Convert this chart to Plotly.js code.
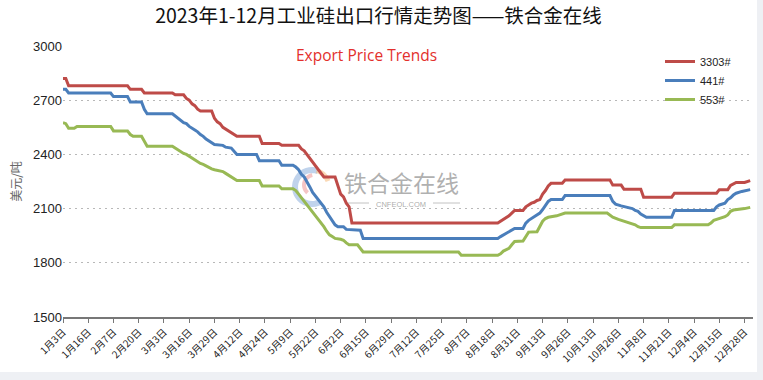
<!DOCTYPE html>
<html>
<head>
<meta charset="utf-8">
<script src="https://cdn.plot.ly/plotly-3.0.1.min.js"></script>
<style>
html,body{margin:0;padding:0;background:#eef0f4;width:763px;height:380px;overflow:hidden;}
#chart{width:757px;height:372px;background:#fff;}
</style>
</head>
<body>
<div id="chart"></div>
<script>
// Tick labels (one every 9 trading days)
const tickLabels = ["1月3日","1月16日","2月7日","2月20日","3月3日","3月16日","3月29日","4月12日","4月24日","5月9日","5月22日","6月2日","6月15日","6月29日","7月12日","7月25日","8月7日","8月18日","8月31日","9月13日","9月26日","10月13日","10月26日","11月8日","11月21日","12月4日","12月15日","12月28日"];
const labelStep = 9;

// 3303# : trading-day index and price (USD/t) at each change point
const day3303 = [0,1,2,23,24,28,29,39,40,43,44,45,46,47,48,49,53,54,55,56,57,58,59,60,61,62,70,71,77,78,84,85,86,87,88,89,90,91,92,93,97,98,99,100,101,102,103,155,156,157,158,159,160,161,164,165,166,167,168,169,170,171,172,173,174,178,179,195,196,199,200,206,207,217,218,233,234,237,238,239,240,243,244,245];
const price3303 = [2820,2820,2780,2780,2760,2760,2740,2740,2730,2730,2710,2700,2680,2670,2650,2640,2640,2600,2580,2570,2550,2540,2530,2520,2510,2500,2500,2460,2460,2450,2450,2430,2420,2400,2380,2355,2335,2315,2295,2275,2275,2230,2180,2165,2130,2110,2020,2020,2030,2040,2050,2060,2075,2090,2090,2110,2120,2130,2135,2145,2150,2180,2200,2225,2240,2240,2258,2258,2230,2230,2207,2207,2163,2163,2185,2185,2205,2205,2228,2238,2245,2245,2250,2255];

// 441#
const day441 = [0,1,2,17,18,23,24,28,29,30,39,41,43,44,45,47,48,49,50,51,52,54,57,58,60,61,62,69,70,77,78,82,83,84,85,86,87,88,89,90,91,92,93,94,95,96,97,98,100,101,106,107,155,156,157,158,159,160,161,164,165,166,167,168,169,170,171,172,173,174,178,179,195,196,197,199,202,203,204,205,206,207,208,217,218,232,233,234,236,237,238,239,240,242,245];
const price441 = [2760,2760,2740,2740,2720,2720,2690,2690,2650,2625,2625,2600,2575,2570,2555,2535,2525,2510,2500,2485,2475,2455,2450,2440,2435,2420,2400,2400,2365,2365,2340,2340,2330,2315,2290,2275,2250,2220,2190,2170,2150,2130,2110,2080,2055,2030,2010,2000,2000,1985,1980,1935,1935,1945,1955,1965,1972,1985,1990,1990,2020,2035,2045,2055,2065,2075,2095,2115,2140,2150,2150,2172,2172,2140,2125,2115,2105,2100,2090,2085,2070,2060,2052,2052,2090,2090,2110,2120,2130,2150,2160,2175,2185,2195,2205];

// 553#
const day553 = [0,1,2,4,5,17,18,23,24,25,28,29,30,39,40,41,42,43,44,45,46,47,48,49,50,51,52,53,54,57,58,59,60,61,62,70,71,77,78,82,83,84,85,86,87,88,89,90,91,92,93,94,95,96,97,99,100,101,102,105,106,107,141,142,155,156,157,158,159,160,161,164,165,166,169,170,171,172,173,176,178,179,194,195,196,198,200,202,204,205,206,217,218,230,231,232,234,236,237,238,239,241,243,245];
const price553 = [2575,2570,2545,2545,2555,2555,2530,2530,2510,2500,2500,2470,2445,2445,2435,2425,2415,2405,2400,2390,2380,2370,2360,2350,2345,2335,2330,2320,2315,2305,2295,2285,2275,2265,2255,2255,2225,2225,2210,2210,2200,2180,2160,2140,2120,2105,2085,2065,2045,2025,2000,1975,1955,1945,1935,1930,1925,1910,1900,1900,1880,1860,1860,1842,1842,1850,1865,1872,1880,1900,1918,1920,1945,1970,1972,2005,2030,2045,2052,2060,2070,2075,2075,2065,2052,2040,2030,2020,2010,2000,1995,1995,2010,2010,2020,2035,2045,2055,2065,2085,2092,2095,2100,2107];

const seriesNames = ["3303#","441#","553#"];
const seriesColors = ["#be4b48","#4a7ebb","#98b954"];
const days = [day3303, day441, day553];
const prices = [price3303, price441, price553];

const traces = seriesNames.map((n,i)=>({
  type:'scatter', mode:'lines', name:n,
  x:days[i], y:prices[i],
  line:{color:seriesColors[i], width:3},
  hoverinfo:'skip'
}));

// layout helpers (pixel -> paper)
const W=757,H=372,ML=63,MR=4,MT=46,MB=55;
const PW=W-ML-MR, PH=H-MT-MB;
const px=(x)=>(x-ML)/PW, py=(y)=>(H-MB-y)/PH;

function arcPath(cx,cy,r,a0,a1){
  let s='';
  const n=24;
  for(let k=0;k<=n;k++){
    const a=(a0+(a1-a0)*k/n)*Math.PI/180;
    const X=px(cx+r*Math.cos(a)), Y=py(cy-r*Math.sin(a));
    s+=(k===0?'M':'L')+X+','+Y;
  }
  return s;
}

const shapes=[
  {type:'path',xref:'paper',yref:'paper',path:arcPath(312,187,17,70,300),line:{color:'rgba(140,175,220,0.55)',width:6},layer:'below'},
  {type:'path',xref:'paper',yref:'paper',path:arcPath(314,185,10,100,230),line:{color:'rgba(235,140,140,0.5)',width:4},layer:'below'},
  {type:'path',xref:'paper',yref:'paper',path:arcPath(312,187,17,20,75),line:{color:'rgba(245,185,120,0.55)',width:5},layer:'below'},
  {type:'line',xref:'paper',yref:'paper',x0:px(345),x1:px(369),y0:py(203),y1:py(203),line:{color:'rgba(170,170,170,0.7)',width:1},layer:'below'},
  {type:'line',xref:'paper',yref:'paper',x0:px(433),x1:px(460),y0:py(203),y1:py(203),line:{color:'rgba(170,170,170,0.7)',width:1},layer:'below'}
];

const layout={
  width:W,height:H,
  margin:{l:ML,r:MR,t:MT,b:MB,pad:0},
  paper_bgcolor:'#ffffff',plot_bgcolor:'#ffffff',
  font:{family:'"Noto Sans CJK SC", "Noto Sans", sans-serif',color:'#222'},
  title:{text:'2023年1-12月工业硅出口行情走势图——铁合金在线',x:0.5,xanchor:'center',xref:'container',y:1-16/H,yanchor:'middle',yref:'container',
    font:{family:'"Noto Sans CJK SC", sans-serif',size:19.5,color:'#111'}},
  xaxis:{
    range:[0,246],
    tickmode:'array',
    tickvals:tickLabels.map((_,i)=>i*labelStep),
    ticktext:tickLabels,
    tickangle:-45,
    ticks:'outside',ticklen:4,tickcolor:'#777',tickwidth:1,
    showline:true,linecolor:'#777',linewidth:1.5,
    showgrid:false,zeroline:false,
    tickfont:{family:'"Noto Sans CJK SC", sans-serif',size:10,color:'#222'}
  },
  yaxis:{
    range:[1500,3000],dtick:300,tick0:1500,
    showgrid:true,gridcolor:'#b8b8b8',griddash:'1.5px,4.5px',gridwidth:1.2,
    showline:false,zeroline:false,ticks:'',
    tickfont:{family:'"Liberation Sans", sans-serif',size:13,color:'#222'},
    title:{text:'美元/吨',standoff:8,font:{family:'"Noto Sans CJK SC", sans-serif',size:12,color:'#666'}}
  },
  legend:{x:px(660),y:py(47),xanchor:'left',yanchor:'top',bgcolor:'rgba(0,0,0,0)',
    font:{family:'"Liberation Sans", sans-serif',size:11,color:'#222'},tracegroupgap:0,itemwidth:30},
  showlegend:true,
  annotations:[
    {text:'Export Price Trends',xref:'paper',yref:'paper',x:px(366),y:py(55),xanchor:'center',yanchor:'middle',showarrow:false,
      font:{family:'"Open Sans", sans-serif',size:15.5,color:'#e3302c'}},
    {text:'铁合金在线',xref:'paper',yref:'paper',x:px(401),y:py(182),xanchor:'center',yanchor:'middle',showarrow:false,
      font:{family:'"Noto Sans CJK SC", sans-serif',size:23,color:'rgba(150,150,150,0.75)'}},
    {text:'CNFEOL.COM',xref:'paper',yref:'paper',x:px(401),y:py(204),xanchor:'center',yanchor:'middle',showarrow:false,
      font:{family:'"Liberation Sans", sans-serif',size:7.5,color:'rgba(150,150,150,0.8)'}}
  ],
  shapes:shapes
};

Plotly.newPlot('chart',traces,layout,{displayModeBar:false,staticPlot:true});
</script>
</body>
</html>
